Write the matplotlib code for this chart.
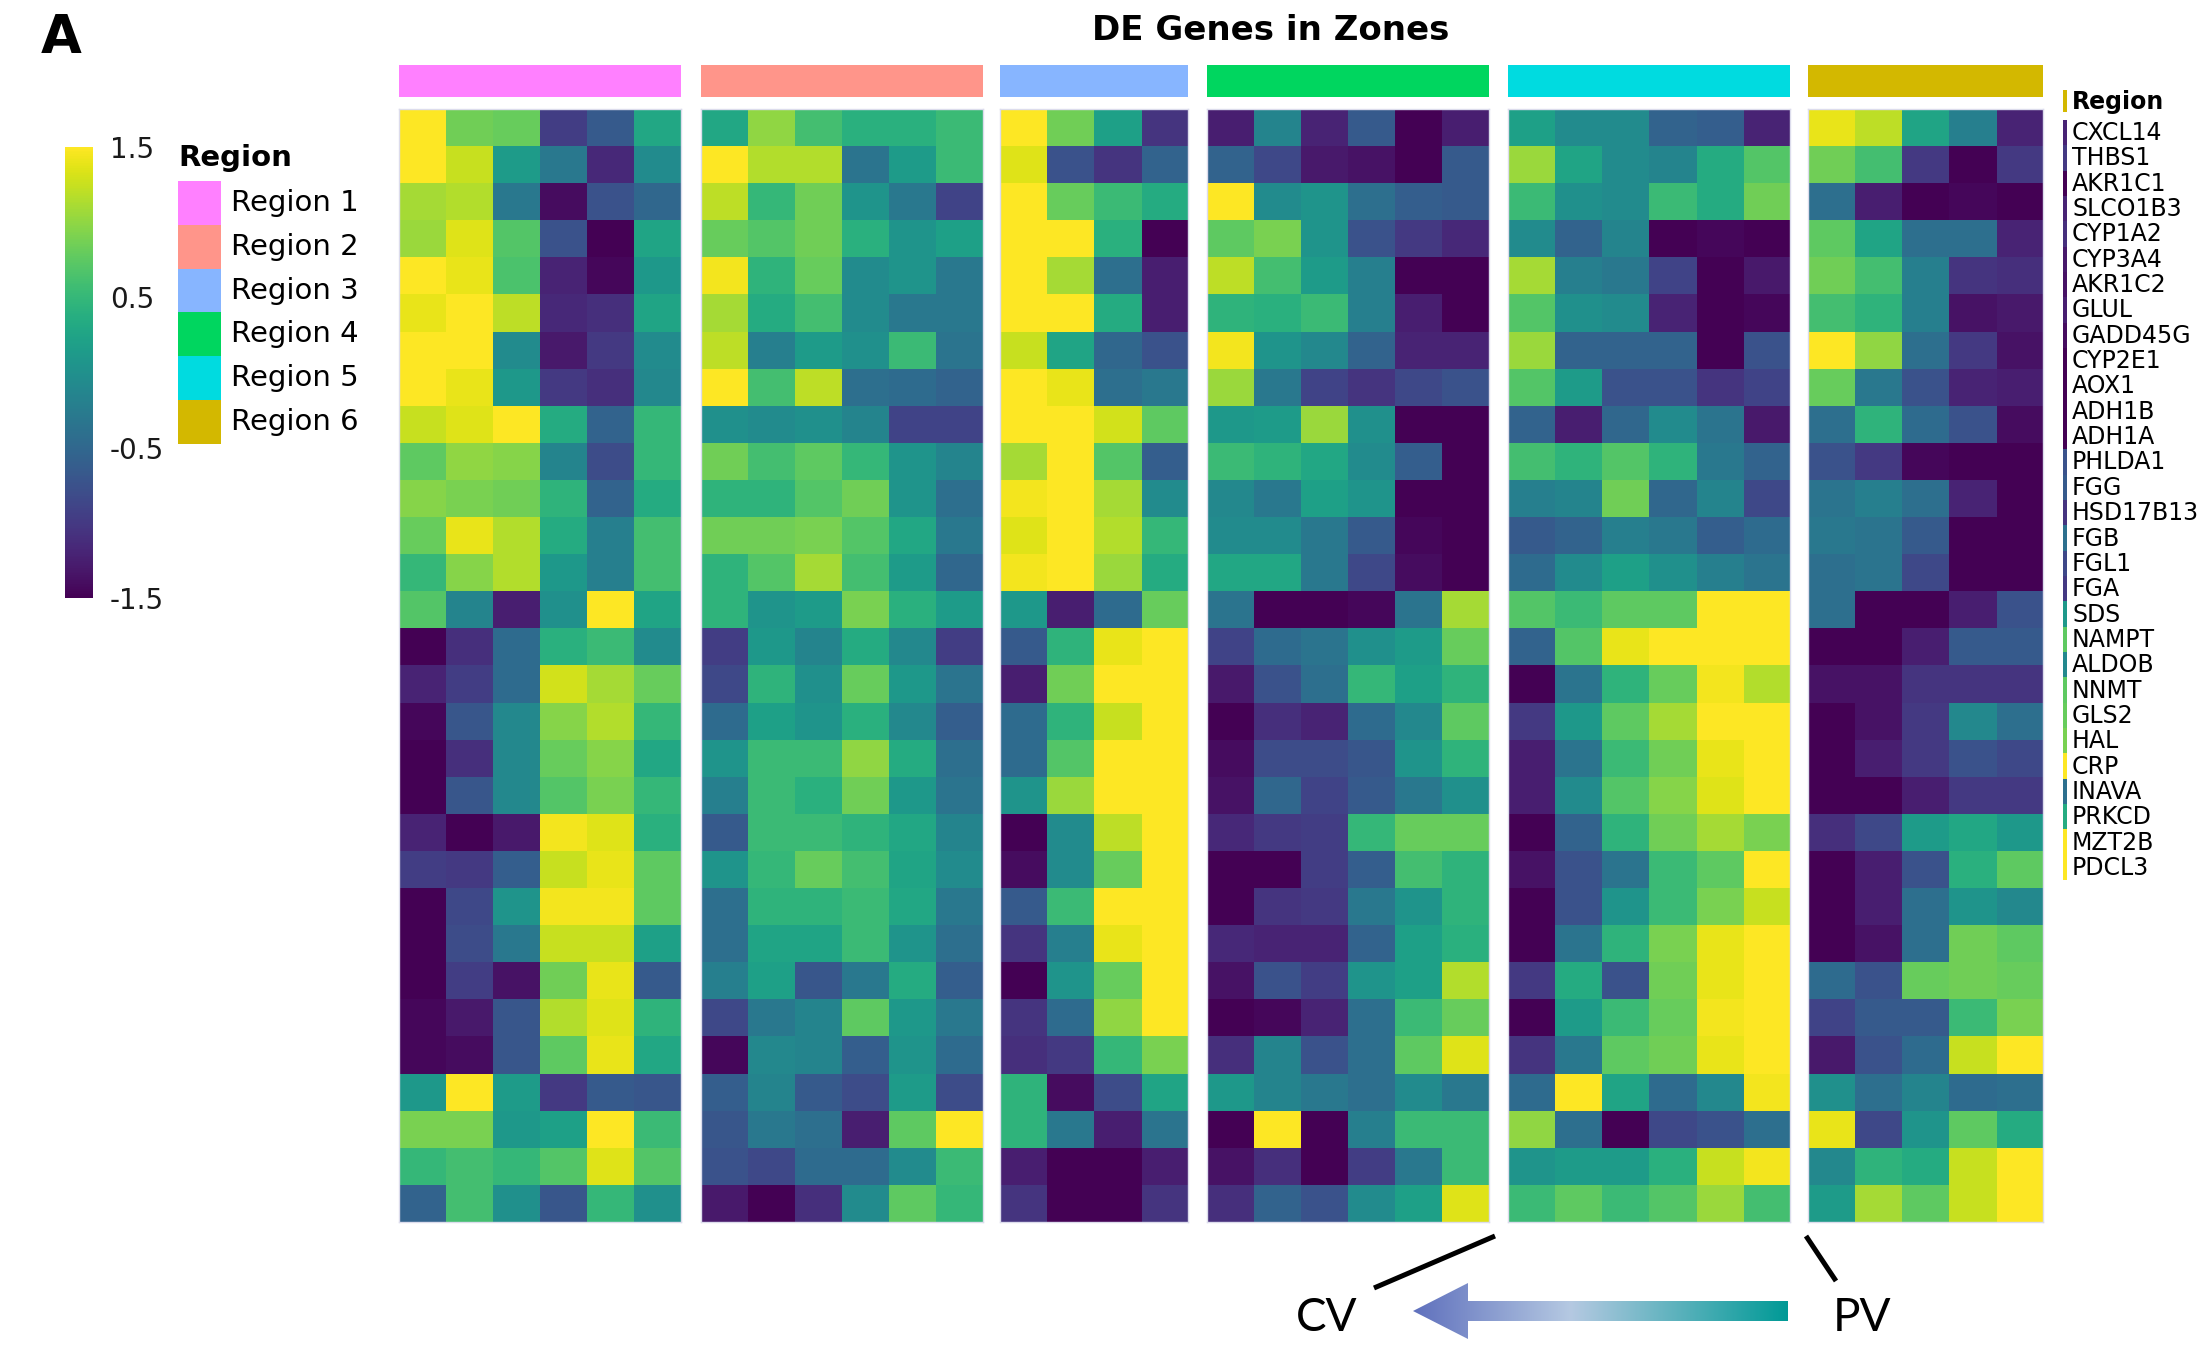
import numpy as np
import matplotlib
matplotlib.use("Agg")
import matplotlib.pyplot as plt
from matplotlib.colors import ListedColormap, LinearSegmentedColormap, Normalize
from matplotlib.cm import ScalarMappable
from matplotlib.patches import Polygon

plt.rcParams['font.family'] = ['DejaVu Sans']
plt.rcParams['axes.unicode_minus'] = False

# ---------------- data ----------------
genes = ["CXCL14", "THBS1", "AKR1C1", "SLCO1B3", "CYP1A2", "CYP3A4", "AKR1C2",
         "GLUL", "GADD45G", "CYP2E1", "AOX1", "ADH1B", "ADH1A", "PHLDA1", "FGG",
         "HSD17B13", "FGB", "FGL1", "FGA", "SDS", "NAMPT", "ALDOB", "NNMT", "GLS2",
         "HAL", "CRP", "INAVA", "PRKCD", "MZT2B", "PDCL3"]
regions = ["Region 1", "Region 2", "Region 3", "Region 4", "Region 5", "Region 6"]
region_colors = ["#FF80FF", "#FF958A", "#87B5FF", "#00D65F", "#00DBE0", "#D3B800"]
cbar_ticks = [-1.5, -0.5, 0.5, 1.5]
cbar_ticklabels = ["-1.5", "-0.5", "0.5", "1.5"]

region1 = [
    [1.5, 0.85, 0.8, -0.95, -0.65, 0.3],
    [1.5, 1.25, 0.15, -0.3, -1.15, -0.05],
    [1.1, 1.15, -0.3, -1.4, -0.75, -0.5],
    [1.05, 1.35, 0.7, -0.75, -1.5, 0.25],
    [1.5, 1.4, 0.65, -1.2, -1.45, 0.1],
    [1.4, 1.5, 1.2, -1.15, -1.1, 0.25],
    [1.5, 1.5, -0.05, -1.3, -1.0, -0.05],
    [1.5, 1.4, 0.1, -1.0, -1.1, -0.1],
    [1.25, 1.35, 1.5, 0.35, -0.55, 0.5],
    [0.75, 1.0, 0.95, -0.15, -0.8, 0.5],
    [0.95, 0.9, 0.85, 0.45, -0.55, 0.35],
    [0.8, 1.4, 1.15, 0.35, -0.2, 0.6],
    [0.5, 0.95, 1.15, 0.1, -0.2, 0.6],
    [0.7, -0.15, -1.25, 0.0, 1.5, 0.25],
    [-1.5, -1.1, -0.45, 0.4, 0.55, -0.05],
    [-1.2, -0.95, -0.45, 1.3, 1.1, 0.8],
    [-1.45, -0.7, -0.1, 0.95, 1.15, 0.5],
    [-1.5, -1.1, -0.1, 0.8, 0.95, 0.3],
    [-1.5, -0.7, -0.1, 0.7, 0.9, 0.5],
    [-1.2, -1.5, -1.3, 1.45, 1.35, 0.4],
    [-0.95, -1.0, -0.6, 1.25, 1.4, 0.75],
    [-1.5, -0.85, 0.05, 1.45, 1.45, 0.75],
    [-1.5, -0.8, -0.3, 1.25, 1.25, 0.2],
    [-1.5, -0.95, -1.35, 0.85, 1.4, -0.65],
    [-1.45, -1.3, -0.7, 1.15, 1.35, 0.45],
    [-1.45, -1.4, -0.7, 0.75, 1.4, 0.3],
    [0.1, 1.5, 0.15, -1.0, -0.65, -0.7],
    [0.9, 0.9, 0.1, 0.2, 1.5, 0.55],
    [0.5, 0.6, 0.5, 0.7, 1.35, 0.7],
    [-0.55, 0.6, 0.0, -0.7, 0.5, 0.0],
]

region2 = [
    [0.3, 1.0, 0.6, 0.4, 0.4, 0.55],
    [1.5, 1.15, 1.15, -0.35, 0.15, 0.55],
    [1.2, 0.5, 0.85, 0.05, -0.3, -0.9],
    [0.8, 0.7, 0.85, 0.4, 0.05, 0.2],
    [1.45, 0.45, 0.8, -0.05, 0.05, -0.3],
    [1.1, 0.35, 0.6, -0.05, -0.3, -0.3],
    [1.2, -0.2, 0.15, 0.0, 0.55, -0.35],
    [1.5, 0.6, 1.2, -0.4, -0.45, -0.55],
    [0.0, -0.05, 0.0, -0.15, -0.9, -0.9],
    [0.85, 0.6, 0.75, 0.5, 0.05, -0.15],
    [0.45, 0.45, 0.7, 0.85, 0.05, -0.4],
    [0.85, 0.85, 0.9, 0.7, 0.3, -0.3],
    [0.45, 0.7, 1.1, 0.6, 0.15, -0.5],
    [0.45, 0.05, 0.15, 0.9, 0.4, 0.15],
    [-0.95, 0.1, -0.15, 0.35, -0.1, -0.95],
    [-0.85, 0.45, 0.0, 0.8, 0.1, -0.35],
    [-0.45, 0.2, 0.05, 0.4, -0.1, -0.6],
    [0.05, 0.55, 0.55, 1.0, 0.35, -0.4],
    [-0.2, 0.55, 0.4, 0.85, 0.1, -0.35],
    [-0.65, 0.55, 0.55, 0.45, 0.3, -0.15],
    [0.05, 0.5, 0.8, 0.6, 0.25, -0.05],
    [-0.4, 0.45, 0.45, 0.55, 0.3, -0.3],
    [-0.4, 0.25, 0.25, 0.55, 0.05, -0.4],
    [-0.2, 0.2, -0.7, -0.3, 0.35, -0.6],
    [-0.85, -0.3, -0.15, 0.75, 0.1, -0.3],
    [-1.45, -0.1, -0.15, -0.6, 0.05, -0.45],
    [-0.6, -0.15, -0.65, -0.8, 0.15, -0.8],
    [-0.7, -0.3, -0.4, -1.25, 0.75, 1.5],
    [-0.75, -0.85, -0.45, -0.45, -0.05, 0.55],
    [-1.3, -1.5, -1.1, -0.05, 0.75, 0.5],
]

region3 = [
    [1.5, 0.85, 0.2, -1.05],
    [1.35, -0.75, -1.05, -0.55],
    [1.5, 0.8, 0.55, 0.35],
    [1.5, 1.5, 0.4, -1.5],
    [1.5, 1.1, -0.4, -1.25],
    [1.5, 1.5, 0.35, -1.25],
    [1.25, 0.25, -0.5, -0.75],
    [1.5, 1.4, -0.4, -0.3],
    [1.5, 1.5, 1.3, 0.75],
    [1.1, 1.5, 0.7, -0.6],
    [1.45, 1.5, 1.1, -0.05],
    [1.35, 1.5, 1.15, 0.5],
    [1.45, 1.5, 1.05, 0.35],
    [0.1, -1.25, -0.45, 0.8],
    [-0.65, 0.45, 1.4, 1.5],
    [-1.25, 0.85, 1.5, 1.5],
    [-0.45, 0.45, 1.25, 1.5],
    [-0.45, 0.7, 1.5, 1.5],
    [0.05, 1.05, 1.5, 1.5],
    [-1.5, -0.05, 1.2, 1.5],
    [-1.4, -0.05, 0.8, 1.5],
    [-0.65, 0.55, 1.5, 1.5],
    [-1.05, -0.2, 1.4, 1.5],
    [-1.5, 0.05, 0.8, 1.5],
    [-1.05, -0.45, 1.0, 1.5],
    [-1.1, -1.0, 0.5, 0.9],
    [0.45, -1.4, -0.8, 0.25],
    [0.45, -0.3, -1.25, -0.35],
    [-1.25, -1.5, -1.5, -1.25],
    [-1.05, -1.5, -1.5, -1.05],
]

region4 = [
    [-1.25, -0.15, -1.2, -0.65, -1.5, -1.25],
    [-0.55, -0.85, -1.3, -1.35, -1.5, -0.65],
    [1.5, -0.05, 0.05, -0.4, -0.6, -0.65],
    [0.75, 0.9, 0.05, -0.75, -1.0, -1.15],
    [1.2, 0.6, 0.15, -0.2, -1.5, -1.5],
    [0.45, 0.4, 0.55, -0.2, -1.25, -1.5],
    [1.45, 0.05, -0.1, -0.55, -1.2, -1.2],
    [1.05, -0.3, -0.9, -1.05, -0.85, -0.75],
    [0.1, 0.15, 1.05, 0.0, -1.5, -1.5],
    [0.55, 0.45, 0.3, -0.05, -0.6, -1.5],
    [-0.1, -0.3, 0.2, 0.05, -1.5, -1.5],
    [-0.05, -0.05, -0.3, -0.65, -1.45, -1.5],
    [0.3, 0.3, -0.3, -0.85, -1.4, -1.5],
    [-0.35, -1.5, -1.5, -1.45, -0.35, 1.1],
    [-0.9, -0.45, -0.35, 0.0, 0.15, 0.8],
    [-1.3, -0.75, -0.4, 0.5, 0.2, 0.45],
    [-1.5, -1.1, -1.2, -0.45, -0.1, 0.75],
    [-1.4, -0.8, -0.8, -0.7, 0.05, 0.45],
    [-1.35, -0.5, -0.9, -0.65, -0.3, 0.0],
    [-1.15, -1.0, -0.95, 0.5, 0.8, 0.8],
    [-1.5, -1.5, -0.95, -0.6, 0.6, 0.45],
    [-1.5, -1.05, -1.0, -0.3, 0.05, 0.45],
    [-1.15, -1.2, -1.2, -0.55, 0.2, 0.4],
    [-1.35, -0.75, -0.95, 0.05, 0.2, 1.15],
    [-1.5, -1.45, -1.2, -0.4, 0.55, 0.8],
    [-1.1, -0.15, -0.75, -0.4, 0.75, 1.35],
    [0.1, -0.15, -0.3, -0.4, -0.05, -0.3],
    [-1.5, 1.5, -1.5, -0.2, 0.55, 0.55],
    [-1.35, -1.1, -1.5, -0.95, -0.3, 0.55],
    [-1.1, -0.55, -0.75, -0.05, 0.2, 1.35],
]

region5 = [
    [0.2, -0.05, -0.05, -0.55, -0.6, -1.2],
    [1.05, 0.25, -0.05, -0.15, 0.35, 0.7],
    [0.55, 0.0, -0.05, 0.55, 0.35, 0.85],
    [-0.05, -0.55, -0.15, -1.5, -1.45, -1.5],
    [1.1, -0.2, -0.3, -0.9, -1.5, -1.3],
    [0.7, 0.0, -0.05, -1.2, -1.5, -1.45],
    [1.05, -0.55, -0.55, -0.55, -1.5, -0.75],
    [0.7, 0.15, -0.75, -0.75, -1.05, -0.9],
    [-0.55, -1.25, -0.5, -0.05, -0.35, -1.3],
    [0.6, 0.45, 0.7, 0.45, -0.3, -0.55],
    [-0.2, -0.15, 0.85, -0.5, -0.15, -0.85],
    [-0.65, -0.55, -0.2, -0.3, -0.6, -0.45],
    [-0.45, -0.05, 0.2, 0.0, -0.2, -0.35],
    [0.7, 0.55, 0.75, 0.75, 1.5, 1.5],
    [-0.55, 0.7, 1.4, 1.5, 1.5, 1.5],
    [-1.5, -0.35, 0.45, 0.8, 1.45, 1.15],
    [-1.0, 0.1, 0.75, 1.1, 1.5, 1.5],
    [-1.25, -0.35, 0.55, 0.85, 1.4, 1.5],
    [-1.25, -0.05, 0.7, 0.95, 1.35, 1.5],
    [-1.5, -0.55, 0.45, 0.85, 1.1, 0.9],
    [-1.35, -0.75, -0.35, 0.55, 0.75, 1.5],
    [-1.5, -0.75, 0.05, 0.55, 0.9, 1.25],
    [-1.5, -0.35, 0.45, 0.9, 1.4, 1.5],
    [-1.0, 0.35, -0.75, 0.85, 1.4, 1.5],
    [-1.5, 0.15, 0.55, 0.8, 1.45, 1.5],
    [-1.05, -0.3, 0.75, 0.85, 1.4, 1.5],
    [-0.45, 1.5, 0.25, -0.45, -0.1, 1.45],
    [1.0, -0.4, -1.5, -0.85, -0.75, -0.4],
    [0.05, 0.15, 0.15, 0.4, 1.25, 1.45],
    [0.55, 0.75, 0.55, 0.7, 1.05, 0.6],
]

region6 = [
    [1.4, 1.2, 0.25, -0.2, -1.2],
    [0.85, 0.6, -1.0, -1.5, -1.0],
    [-0.4, -1.25, -1.5, -1.45, -1.5],
    [0.75, 0.25, -0.4, -0.4, -1.2],
    [0.85, 0.6, -0.2, -1.05, -1.1],
    [0.6, 0.45, -0.2, -1.35, -1.3],
    [1.5, 1.0, -0.4, -1.0, -1.35],
    [0.8, -0.3, -0.75, -1.2, -1.25],
    [-0.4, 0.45, -0.45, -0.75, -1.4],
    [-0.75, -1.0, -1.45, -1.5, -1.5],
    [-0.35, -0.2, -0.4, -1.2, -1.5],
    [-0.3, -0.35, -0.65, -1.5, -1.5],
    [-0.4, -0.35, -0.85, -1.5, -1.5],
    [-0.4, -1.5, -1.5, -1.25, -0.75],
    [-1.5, -1.5, -1.25, -0.65, -0.65],
    [-1.35, -1.35, -1.05, -1.05, -1.05],
    [-1.5, -1.35, -1.0, -0.1, -0.4],
    [-1.5, -1.25, -1.0, -0.75, -0.85],
    [-1.5, -1.5, -1.25, -1.0, -1.0],
    [-1.1, -0.85, 0.15, 0.3, 0.1],
    [-1.5, -1.25, -0.75, 0.4, 0.75],
    [-1.5, -1.25, -0.4, 0.05, -0.1],
    [-1.5, -1.35, -0.4, 0.85, 0.75],
    [-0.45, -0.75, 0.8, 0.85, 0.8],
    [-0.9, -0.65, -0.65, 0.55, 0.9],
    [-1.3, -0.75, -0.45, 1.25, 1.5],
    [0.0, -0.4, -0.15, -0.45, -0.4],
    [1.4, -0.85, 0.05, 0.75, 0.35],
    [-0.1, 0.45, 0.35, 1.25, 1.5],
    [0.15, 1.1, 0.75, 1.25, 1.5],
]

region_data = [region1, region2, region3, region4, region5, region6]

# ---------------- layout (pixels) ----------------
W, H = 2212, 1347
fig = plt.figure(figsize=(W / 100, H / 100), dpi=100)
cmap = plt.get_cmap('viridis')
norm = Normalize(vmin=-1.5, vmax=1.5)


def px_axes(x0, y0, x1, y1, **kw):
    return fig.add_axes([x0 / W, 1 - y1 / H, (x1 - x0) / W, (y1 - y0) / H], **kw)


cell_w = 47
group_x0 = [399, 701, 1000, 1207, 1508, 1808]
hm_top, hm_bot = 109, 1222
bar_top, bar_bot = 65, 97

for k, (data, x0) in enumerate(zip(region_data, group_x0)):
    arr = np.array(data)
    x1 = x0 + cell_w * arr.shape[1]
    ax = px_axes(x0, hm_top, x1, hm_bot)
    ax.imshow(arr, cmap=cmap, norm=norm, aspect='auto', interpolation='nearest')
    ax.set_xticks([])
    ax.set_yticks([])
    for s in ax.spines.values():
        s.set_color('#dcdcec')
        s.set_linewidth(1.0)
    bar = px_axes(x0, bar_top, x1, bar_bot)
    bar.imshow([[k]], cmap=ListedColormap(region_colors), vmin=-0.5, vmax=5.5,
               aspect='auto', interpolation='nearest')
    bar.axis('off')

# colorbar
cax = px_axes(65, 147, 93, 598)
cb = fig.colorbar(ScalarMappable(norm=norm, cmap=cmap), cax=cax, ticks=cbar_ticks)
cb.set_ticklabels(cbar_ticklabels)
cb.outline.set_visible(False)
cax.tick_params(length=0, labelsize=20, pad=12, colors='#1a1a1a')

# region legend
lax = px_axes(178, 181, 221, 444)
lax.imshow(np.arange(len(regions)).reshape(-1, 1), cmap=ListedColormap(region_colors),
           aspect='auto', interpolation='nearest')
lax.axis('off')
fig.text(178 / W, 1 - 158 / H, "Region", fontsize=21, fontweight='bold',
         ha='left', va='center')
for i, r in enumerate(regions):
    yc = 181 + (i + 0.5) * (444 - 181) / len(regions)
    fig.text(231 / W, 1 - yc / H, r, fontsize=21, ha='left', va='center')

# right gene label panel with thin strip
sax = px_axes(2063, 90, 2067, 112)
sax.imshow([[5]], cmap=ListedColormap(region_colors), vmin=-0.5, vmax=5.5,
           aspect='auto', interpolation='nearest')
sax.axis('off')
sax2 = px_axes(2063, 120, 2067, 880)
sax2.imshow(np.array(region6)[:, -1:], cmap=cmap, norm=norm, aspect='auto',
            interpolation='nearest')
sax2.axis('off')
fig.text(2072 / W, 1 - 102 / H, "Region", fontsize=17, fontweight='bold',
         ha='left', va='center')
ys = np.linspace(133, 868, len(genes))
for g, y in zip(genes, ys):
    fig.text(2072 / W, 1 - y / H, g, fontsize=17, ha='left', va='center')

# titles
fig.text(1271 / W, 1 - 31 / H, "DE Genes in Zones", fontsize=24.5, fontweight='bold',
         ha='center', va='center')
fig.text(41 / W, 1 - 38 / H, "A", fontsize=38, fontweight='bold', ha='left', va='center')

# CV / PV annotation overlay
ov = fig.add_axes([0, 0, 1, 1])
ov.set_xlim(0, W)
ov.set_ylim(H, 0)
ov.axis('off')
ov.patch.set_alpha(0)
ov.plot([1495, 1374], [1236, 1288], color='black', lw=3.6, solid_capstyle='butt')
ov.plot([1806, 1836], [1236, 1281], color='black', lw=3.6, solid_capstyle='butt')
ov.text(1327, 1318, "CV", fontsize=33, family='Lato', ha='center', va='center')
ov.text(1862, 1318, "PV", fontsize=33, family='Lato', ha='center', va='center')

arrow_pts = [(1413, 1311), (1468, 1283), (1468, 1301), (1788, 1301),
             (1788, 1321), (1468, 1321), (1468, 1339)]
poly = Polygon(arrow_pts, closed=True, facecolor='none', edgecolor='none')
ov.add_patch(poly)
grad_cmap = LinearSegmentedColormap.from_list(
    'cvpv', [(0.0, '#5F70BD'), (0.42, '#B5C9E2'), (1.0, '#009A96')])
grad = np.linspace(0, 1, 256).reshape(1, -1)
im = ov.imshow(grad, cmap=grad_cmap, aspect='auto', extent=[1413, 1788, 1339, 1283],
               interpolation='bilinear')
im.set_clip_path(poly)
ov.set_xlim(0, W)
ov.set_ylim(H, 0)

fig.savefig("out.png", dpi=100)
